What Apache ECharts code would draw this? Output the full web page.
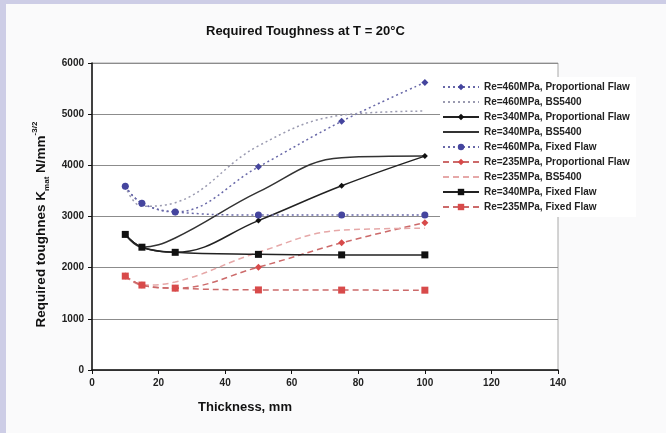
<!DOCTYPE html>
<html>
<head>
<meta charset="utf-8">
<script src="https://cdn.jsdelivr.net/npm/echarts@6/dist/echarts.min.js"></script>
<style>
  body { margin: 0; background: #fafafb; }
  .frame-left { position: absolute; left: 0; top: 0; width: 6px; height: 433px; background: #cdcde6; }
  .frame-top { position: absolute; left: 0; top: 0; width: 666px; height: 4px; background: #cdcde6; }
  #chart { position: absolute; left: 0; top: 0; width: 666px; height: 433px; }
</style>
</head>
<body>
<div class="frame-left"></div>
<div class="frame-top"></div>
<div id="chart"></div>
<script>
// thickness (mm) of the calculated points
var thickness = [10, 15, 25, 50, 75, 100];

// required toughness values, N/mm^-3/2
var re460Prop = [3590, 3260, 3090, 3970, 4860, 5620];
var re460BS = [3590, 3200, 3270, 4380, 4980, 5060];
var re340Prop = [2650, 2400, 2300, 2920, 3600, 4180];
var re340BS = [2650, 2400, 2580, 3480, 4150, 4180];
var re460Fixed = [3590, 3260, 3090, 3030, 3030, 3030];
var re235Prop = [1835, 1660, 1600, 2010, 2486, 2880];
var re235BS = [1835, 1660, 1720, 2300, 2734, 2770];
var re340Fixed = [2650, 2400, 2300, 2260, 2250, 2250];
var re235Fixed = [1835, 1660, 1600, 1565, 1562, 1560];

var xTicks = [0, 20, 40, 60, 80, 100, 120, 140];
var yTicks = [0, 1000, 2000, 3000, 4000, 5000, 6000];

var font = 'Liberation Sans, Arial, sans-serif';

function pairs(vals) {
  return thickness.map(function (t, i) { return [t, vals[i]]; });
}

function line(name, vals, color, lineColor, dash, symbol, size) {
  return {
    name: name,
    type: 'line',
    smooth: 0.4,
    data: pairs(vals),
    symbol: symbol,
    symbolSize: size,
    showSymbol: symbol !== 'none',
    itemStyle: { color: color },
    lineStyle: { color: lineColor, width: 1.5, type: dash },
    animation: false
  };
}

var series = [
  line('Re=460MPa, Proportional Flaw', re460Prop, '#45459e', '#6868a8', [2, 3], 'diamond', 7),
  line('Re=460MPa, BS5400', re460BS, '#9a9ab0', '#9a9ab0', [2, 3], 'none', 0),
  line('Re=340MPa, Proportional Flaw', re340Prop, '#111', '#222', 'solid', 'diamond', 6),
  line('Re=340MPa, BS5400', re340BS, '#222', '#333', 'solid', 'none', 0),
  line('Re=460MPa, Fixed Flaw', re460Fixed, '#45459e', '#6868a8', [2, 3], 'circle', 7),
  line('Re=235MPa, Proportional Flaw', re235Prop, '#d84a4a', '#cc6a6a', [6, 4], 'diamond', 7),
  line('Re=235MPa, BS5400', re235BS, '#e6a8a8', '#e6a8a8', [6, 4], 'none', 0),
  line('Re=340MPa, Fixed Flaw', re340Fixed, '#111', '#222', 'solid', 'rect', 7),
  line('Re=235MPa, Fixed Flaw', re235Fixed, '#d84a4a', '#cc6a6a', [6, 4], 'rect', 7)
];

// BS5400 curves have no markers, so hide the marker in their legend icon
var legendData = series.map(function (s) {
  if (s.symbol === 'none') {
    return { name: s.name, itemStyle: { opacity: 0 } };
  }
  return { name: s.name };
});

var chart = echarts.init(document.getElementById('chart'));
var option = {
  title: {
    text: 'Required Toughness at T = 20°C',
    left: 201,
    top: 20,
    textStyle: { fontFamily: font, fontSize: 13, fontWeight: 'bold', color: '#111' }
  },
  grid: {
    left: 92,
    right: 108,
    top: 63,
    bottom: 63,
    show: true,
    borderColor: '#a8a8a8',
    borderWidth: 1,
    backgroundColor: '#fff'
  },
  legend: {
    orient: 'vertical',
    left: 440,
    top: 77,
    backgroundColor: '#fff',
    padding: [5, 6, 5, 2],
    itemWidth: 36,
    itemHeight: 8,
    itemGap: 5,
    data: legendData,
    textStyle: { fontFamily: font, fontSize: 10, fontWeight: 'bold', color: '#222' }
  },
  xAxis: {
    type: 'value',
    min: xTicks[0],
    max: xTicks[xTicks.length - 1],
    interval: 20,
    name: 'Thickness, mm',
    nameLocation: 'middle',
    nameGap: 31,
    nameTextStyle: { fontFamily: font, fontSize: 13, fontWeight: 'bold', color: '#111', padding: [0, 160, 0, 0] },
    axisLine: { lineStyle: { color: '#111', width: 1.5 } },
    axisTick: { lineStyle: { color: '#111' }, length: 4 },
    axisLabel: { fontFamily: font, fontSize: 10, fontWeight: 'bold', color: '#222', margin: 8 },
    splitLine: { show: false }
  },
  yAxis: {
    type: 'value',
    min: yTicks[0],
    max: yTicks[yTicks.length - 1],
    interval: 1000,
    name: '{m|Required toughnes K}{sub|mat}{m| N/mm}{sup|-3/2}',
    nameLocation: 'middle',
    nameGap: 40,
    nameTextStyle: {
      fontFamily: font, fontSize: 13, fontWeight: 'bold', color: '#111',
      padding: [0, 16, 0, 0],
      rich: {
        m: { fontFamily: font, fontSize: 13.5, fontWeight: 'bold', color: '#111', lineHeight: 20 },
        sub: { fontFamily: font, fontSize: 8, fontWeight: 'bold', color: '#111', verticalAlign: 'bottom', lineHeight: 13 },
        sup: { fontFamily: font, fontSize: 8, fontWeight: 'bold', color: '#111', verticalAlign: 'top', lineHeight: 13 }
      }
    },
    axisLine: { show: true, lineStyle: { color: '#111', width: 1.5 } },
    axisTick: { show: true, lineStyle: { color: '#111' }, length: 4 },
    axisLabel: {
      fontFamily: font, fontSize: 10, fontWeight: 'bold', color: '#222', margin: 8,
      formatter: function (v) { return String(v); }
    },
    splitLine: { lineStyle: { color: '#8c8c8c', width: 1 } }
  },
  series: series
};
chart.setOption(option);
</script>
</body>
</html>
